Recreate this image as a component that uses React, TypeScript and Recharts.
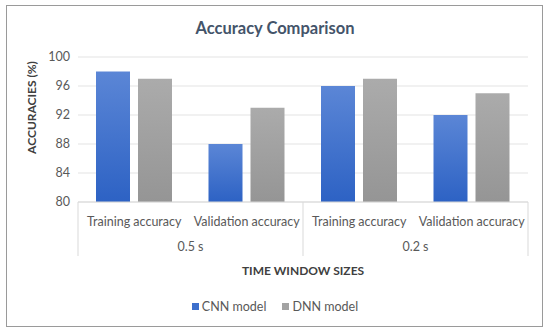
import { BarChart, Bar, XAxis, YAxis, CartesianGrid } from 'recharts';

// categories and the time window each one belongs to
const categories = ['Training accuracy', 'Validation accuracy', 'Training accuracy', 'Validation accuracy'];
const windows = ['0.5 s', '0.5 s', '0.2 s', '0.2 s'];

// series values (%)
const cnnValues = [98, 88, 96, 92];
const dnnValues = [97, 93, 97, 95];

const yTicks = [80, 84, 88, 92, 96, 100];

const seriesNames = ['CNN model', 'DNN model'];
const seriesColors = ['#3d6fcc', '#a3a3a3'];

const W = 550;
const H = 334;
const MARGIN = { top: 57, right: 22, left: 18, bottom: 76 };
const Y_AXIS_W = 60;
const CAT_H = 26;
const GRP_H = 30;

const FONT = 'Lato, "Open Sans", sans-serif';
const TEXT = '#595959';

const data = categories.map((name, i) => ({
  name,
  group: windows[i],
  cnn: cnnValues[i],
  dnn: dnnValues[i],
}));

const plotWidth = W - MARGIN.left - MARGIN.right - Y_AXIS_W;
const band = plotWidth / data.length;

// group axis tick: draws the separator lines and the window label once per group
const GroupTick = (props: any) => {
  const { x, y, index } = props;
  const top = y - CAT_H;
  const bottom = y + 28;
  const parts: any[] = [];
  const isFirst = index === 0 || windows[index] !== windows[index - 1];
  const isLast = index === windows.length - 1;
  if (isFirst) {
    parts.push(<line key="l" x1={x - band / 2} x2={x - band / 2} y1={top} y2={bottom} stroke="#d9d9d9" />);
  }
  if (isLast) {
    parts.push(<line key="r" x1={x + band / 2} x2={x + band / 2} y1={top} y2={bottom} stroke="#d9d9d9" />);
  }
  const isSecond = index > 0 && windows[index] === windows[index - 1];
  if (isSecond) {
    parts.push(
      <text key="t" x={x - band / 2} y={y + 23} textAnchor="middle" fill={TEXT} fontSize={12.5} fontFamily={FONT}>
        {windows[index]}
      </text>
    );
  }
  return <g>{parts}</g>;
};

const YLabel = (props: any) => {
  const { viewBox } = props;
  const cx = viewBox.x + 13;
  const cy = viewBox.y + viewBox.height / 2 - 22;
  return (
    <text
      x={cx}
      y={cy}
      transform={`rotate(-90 ${cx} ${cy})`}
      textAnchor="middle"
      dominantBaseline="central"
      fill="#404040"
      fontSize={12}
      fontWeight={700}
      fontFamily={FONT}
    >
      ACCURACIES  (%)
    </text>
  );
};

export default function App() {
  return (
    <div style={{ position: 'fixed', left: 0, top: 0, width: W, height: H, background: '#ffffff', fontFamily: FONT }}>
      <div
        style={{
          position: 'absolute',
          left: 6,
          top: 5,
          width: 537,
          height: 322,
          border: '1.5px solid #9a9a9a',
          boxSizing: 'border-box',
        }}
      />
      <div
        style={{
          position: 'absolute',
          top: 18,
          left: 0,
          width: W,
          textAlign: 'center',
          fontSize: 16.5,
          fontWeight: 700,
          color: '#44546a',
        }}
      >
        Accuracy Comparison
      </div>
      <BarChart width={W} height={H} data={data} margin={MARGIN} barSize={34} barGap={8}>
        <defs>
          <linearGradient id="cnnFill" x1="0" y1="0" x2="0" y2="1">
            <stop offset="0%" stopColor="#5b86d6" />
            <stop offset="100%" stopColor="#2d62c4" />
          </linearGradient>
          <linearGradient id="dnnFill" x1="0" y1="0" x2="0" y2="1">
            <stop offset="0%" stopColor="#ababab" />
            <stop offset="100%" stopColor="#959595" />
          </linearGradient>
        </defs>
        <CartesianGrid vertical={false} stroke="#e3e3e3" />
        <YAxis
          width={Y_AXIS_W}
          domain={[80, 100]}
          ticks={yTicks}
          axisLine={false}
          tickLine={false}
          tick={{ fill: TEXT, fontSize: 12.5, fontFamily: FONT }}
          label={<YLabel />}
        />
        <XAxis
          xAxisId="cat"
          dataKey="name"
          height={CAT_H}
          axisLine={{ stroke: '#d9d9d9' }}
          tickLine={false}
          tickSize={0}
          tickMargin={15}
          interval={0}
          tick={{ fill: TEXT, fontSize: 12.5, fontFamily: FONT }}
        />
        <XAxis
          xAxisId="grp"
          dataKey="group"
          height={GRP_H}
          axisLine={false}
          tickLine={false}
          tickSize={0}
          tickMargin={0}
          interval={0}
          tick={<GroupTick />}
          label={{
            value: 'TIME WINDOW SIZES',
            position: 'insideBottom',
            offset: -17,
            fill: '#404040',
            fontSize: 12,
            fontWeight: 700,
            fontFamily: FONT,
          }}
        />
        <Bar xAxisId="cat" dataKey="cnn" name={seriesNames[0]} fill="url(#cnnFill)" isAnimationActive={false} />
        <Bar xAxisId="cat" dataKey="dnn" name={seriesNames[1]} fill="url(#dnnFill)" isAnimationActive={false} />
      </BarChart>
      <div
        style={{
          position: 'absolute',
          top: 299,
          left: 0,
          width: W,
          display: 'flex',
          justifyContent: 'center',
          gap: 16,
          fontSize: 12.5,
          color: TEXT,
        }}
      >
        {seriesNames.map((n, i) => (
          <div key={n} style={{ display: 'flex', alignItems: 'center' }}>
            <span style={{ display: 'inline-block', width: 7, height: 7, background: seriesColors[i], marginRight: 3 }} />
            {n}
          </div>
        ))}
      </div>
    </div>
  );
}
